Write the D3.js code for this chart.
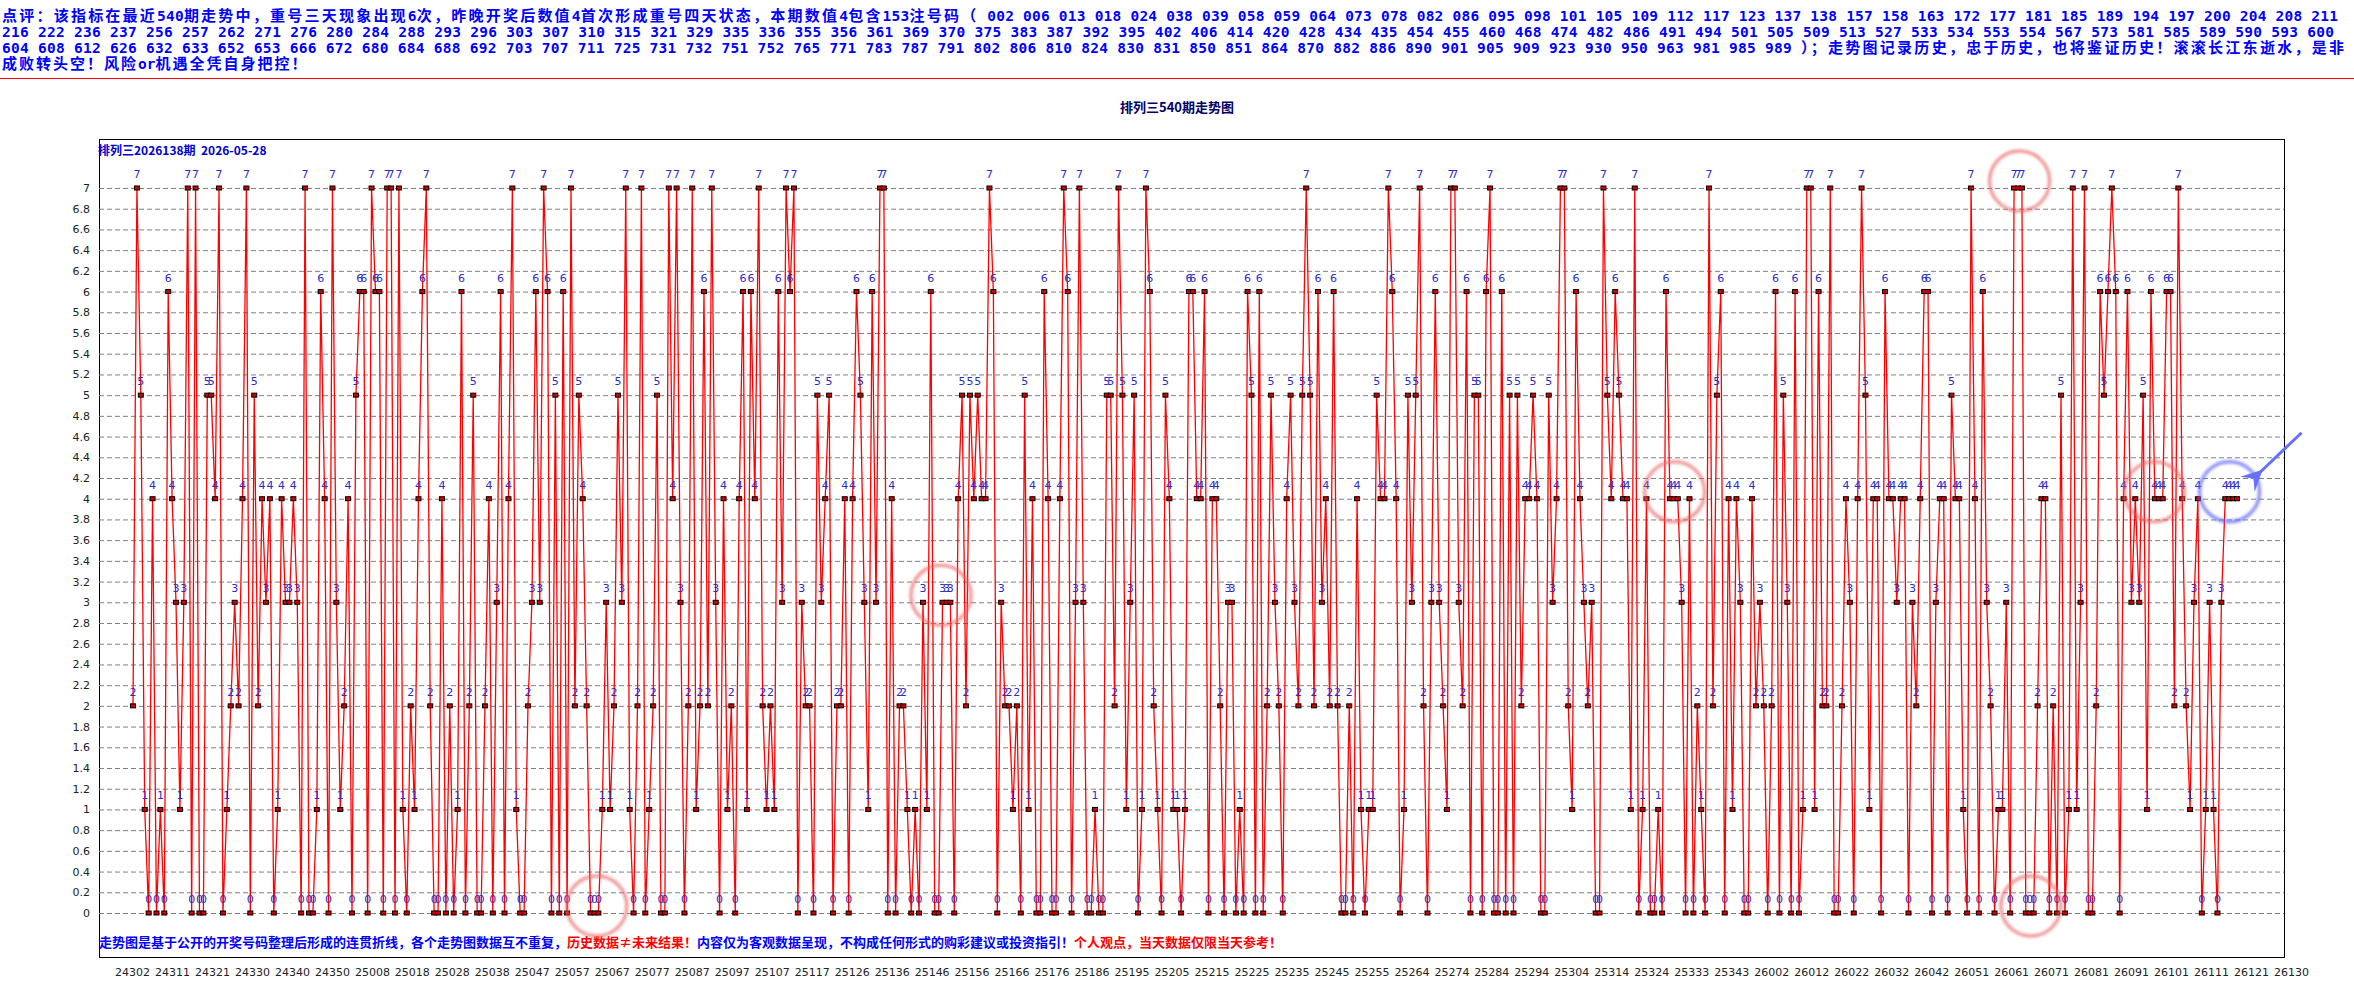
<!DOCTYPE html>
<html lang="zh">
<head>
<meta charset="UTF-8">
<title>排列三540期走势图</title>
<script src="https://cdn.jsdelivr.net/npm/d3@7"></script>
<style>
    body { margin: 0; background: #fff; }
    svg { display: block; }
    text { white-space: pre; }
</style>
</head>
<body>
<svg id="chart" width="2354" height="1004"></svg>
<script>

    // ---- data ----
    var chartTitle = '排列三540期走势图';
    var subTitle = '排列三2026138期  2026-05-28';

    var values = [
        2,7,5,1,0,4,0,1,0,6, 4,3,1,3,7,0,7,0,0,5, 5,4,7,0,1,2,3,2,4,7, 0,5,2,4,3,4,0,1,4,3,
        3,4,3,0,7,0,0,1,6,4, 0,7,3,1,2,4,0,5,6,6, 0,7,6,6,0,7,7,0,7,1, 0,2,1,4,6,7,2,0,0,4,
        0,2,0,1,6,0,2,5,0,0, 2,4,0,3,6,0,4,7,1,0, 0,2,3,6,3,7,6,0,5,0, 6,0,7,2,5,4,2,0,0,0,
        1,3,1,2,5,3,7,1,0,2, 7,0,1,2,5,0,0,7,4,7, 3,0,2,7,1,2,6,2,7,3, 0,4,1,2,0,4,6,1,6,4,
        7,2,1,2,1,6,3,7,6,7, 0,3,2,2,0,5,3,4,5,0, 2,2,4,0,4,6,5,3,1,6, 3,7,7,0,4,0,2,2,1,0,
        1,0,3,1,6,0,0,3,3,3, 0,4,5,2,5,4,5,4,4,7, 6,0,3,2,2,1,2,0,5,1, 4,0,0,6,4,0,0,4,7,6,
        0,3,7,3,0,0,1,0,0,5, 5,2,7,5,1,3,5,0,1,7, 6,2,1,0,5,4,1,1,0,1, 6,6,4,4,6,0,4,4,2,0,
        3,3,0,1,0,6,5,0,6,0, 2,5,3,2,0,4,5,3,2,5, 7,5,2,6,3,4,2,6,2,0, 0,2,0,4,1,0,1,1,5,4,
        4,7,6,4,0,1,5,3,5,7, 2,0,3,6,3,2,1,7,7,3, 2,6,0,5,5,0,6,7,0,0, 6,0,5,0,5,2,4,4,5,4,
        0,0,5,3,4,7,7,2,1,6, 4,3,2,3,0,0,7,5,4,6, 5,4,4,1,7,0,1,4,0,0, 1,0,6,4,4,4,3,0,4,0,
        2,1,0,7,2,5,6,0,4,1, 4,3,0,0,4,2,3,2,0,2, 6,0,5,3,0,6,0,1,7,7, 1,6,2,2,7,0,0,2,4,3,
        0,4,7,5,1,4,4,0,6,4, 4,3,4,4,0,3,2,4,6,6, 0,3,4,4,0,5,4,4,1,0, 7,4,0,6,3,2,0,1,1,3,
        0,7,7,7,0,0,0,2,4,4, 0,2,0,5,0,1,7,1,3,7, 0,0,2,6,5,6,7,6,0,4, 6,3,4,3,5,1,6,4,4,4,
        6,6,2,7,4,2,1,3,4,0, 1,3,1,0,3,4,4,4,4
    ];

    var xTickLabels = [
        '24302','24311','24321','24330','24340','24350',
        '25008','25018','25028','25038','25047','25057','25067','25077','25087','25097',
        '25107','25117','25126','25136','25146','25156','25166','25176','25186','25195',
        '25205','25215','25225','25235','25245','25255','25264','25274','25284','25294',
        '25304','25314','25324','25333','25343',
        '26002','26012','26022','26032','26042','26051','26061','26071','26081','26091',
        '26101','26111','26121','26130'
    ];

    var yTickValues = d3.range(0, 36).map(function (k) { return k / 5; });

    var headerLines = [
        '点评：该指标在最近540期走势中，重号三天现象出现6次，昨晚开奖后数值4首次形成重号四天状态，本期数值4包含153注号码（ 002 006 013 018 024 038 039 058 059 064 073 078 082 086 095 098 101 105 109 112 117 123 137 138 157 158 163 172 177 181 185 189 194 197 200 204 208 211',
        '216 222 236 237 256 257 262 271 276 280 284 288 293 296 303 307 310 315 321 329 335 336 355 356 361 369 370 375 383 387 392 395 402 406 414 420 428 434 435 454 455 460 468 474 482 486 491 494 501 505 509 513 527 533 534 553 554 567 573 581 585 589 590 593 600',
        '604 608 612 626 632 633 652 653 666 672 680 684 688 692 703 707 711 725 731 732 751 752 765 771 783 787 791 802 806 810 824 830 831 850 851 864 870 882 886 890 901 905 909 923 930 950 963 981 985 989 ）；走势图记录历史，忠于历史，也将鉴证历史！滚滚长江东逝水，是非',
        '成败转头空！风险or机遇全凭自身把控！'
    ];
    var headerWidths = [2336, 2332, 2344, null];

    var footNote = [
        { text: '走势图是基于公开的开奖号码整理后形成的连贯折线，各个走势图数据互不重复，', color: '#0000ff' },
        { text: '历史数据≠未来结果！', color: '#ff0000' },
        { text: '内容仅为客观数据呈现，不构成任何形式的购彩建议或投资指引！', color: '#0000ff' },
        { text: '个人观点，当天数据仅限当天参考！', color: '#ff0000' }
    ];

    // circled runs (index of centre, value) and the blue one on the latest draws
    var rings = [
        { i: 118.6, v: 0, color: 'red' },
        { i: 206.6, v: 3, color: 'red' },
        { i: 394.2, v: 4, color: 'red' },
        { i: 482.4, v: 7, color: 'red' },
        { i: 485.3, v: 0, color: 'red' },
        { i: 516.9, v: 4, color: 'red' },
        { i: 536.1, v: 4, color: 'blue' }
    ];

    // ---- layout ----
    var box = { left: 99, top: 139, right: 2284, bottom: 957 };

    var svg = d3.select('#chart');

    var defs = svg.append('defs');
    defs.append('filter').attr('id', 'glow')
        .attr('x', '-30%').attr('y', '-30%').attr('width', '160%').attr('height', '160%')
        .append('feGaussianBlur').attr('stdDeviation', 1.4);
    defs.append('marker').attr('id', 'arrowHead')
        .attr('viewBox', '0 0 10 10').attr('refX', 2).attr('refY', 5)
        .attr('markerWidth', 7).attr('markerHeight', 7).attr('orient', 'auto-start-reverse')
        .append('path').attr('d', 'M10,0 L0,5 L10,10 L6,5 Z').attr('fill', '#6670ff');

    var x = d3.scaleLinear().domain([0, values.length - 1]).range([133, 2237]);
    var y = d3.scaleLinear().domain([0, 7]).range([913, 188]);
    var xLab = d3.scalePoint().domain(xTickLabels).range([132, 2291]);

    // header text, CJK and ascii runs in their own fonts
    function addRuns(sel, str) {
        str.split(/([\x00-\x7f]+)/).forEach(function (part) {
            if (!part) return;
            var ascii = /^[\x00-\x7f]+$/.test(part);
            sel.append('tspan')
                .attr('font-family', ascii ? '"DejaVu Sans Mono", monospace' : '"Noto Sans CJK SC", sans-serif')
                .attr('font-size', ascii ? 14.5 : 15)
                .attr('letter-spacing', ascii ? 0 : 2)
                .text(part);
        });
    }

    headerLines.forEach(function (line, k) {
        var t = svg.append('text')
            .attr('x', 2)
            .attr('y', 21 + k * 16)
            .attr('fill', '#0000ff')
            .attr('font-weight', 'bold');
        if (headerWidths[k]) {
            t.attr('textLength', headerWidths[k]).attr('lengthAdjust', 'spacing');
        }
        addRuns(t, line);
    });

    svg.append('line')
        .attr('x1', 0).attr('x2', 2354).attr('y1', 78.5).attr('y2', 78.5)
        .attr('stroke', '#ff0000').attr('stroke-width', 1);

    svg.append('text')
        .attr('x', 1177).attr('y', 112)
        .attr('text-anchor', 'middle')
        .attr('font-family', '"Noto Sans CJK SC", sans-serif')
        .attr('font-size', 13).attr('font-weight', 'bold')
        .attr('fill', '#000066')
        .text(chartTitle);

    // plot frame
    svg.append('rect')
        .attr('x', box.left + 0.5).attr('y', box.top + 0.5)
        .attr('width', box.right - box.left).attr('height', box.bottom - box.top)
        .attr('fill', '#fff').attr('stroke', '#000').attr('stroke-width', 1);

    // dashed grid
    svg.append('g')
        .attr('transform', 'translate(' + box.left + ',0)')
        .call(d3.axisLeft(y).tickValues(yTickValues).tickSize(-(box.right - box.left)).tickFormat(''))
        .call(function (g) {
            g.select('.domain').remove();
            g.selectAll('line').attr('stroke', '#808080').attr('stroke-dasharray', '5,3');
        });

    // y labels
    svg.append('g')
        .attr('transform', 'translate(' + (box.left - 6) + ',0)')
        .call(d3.axisLeft(y).tickValues(yTickValues).tickSize(0).tickFormat(d3.format('~g')))
        .call(function (g) {
            g.select('.domain').remove();
            g.selectAll('text')
                .attr('font-family', '"DejaVu Sans", sans-serif')
                .attr('font-size', 11).attr('fill', '#222');
        });

    // x labels
    svg.append('g')
        .attr('transform', 'translate(0,' + (box.bottom + 8) + ')')
        .call(d3.axisBottom(xLab).tickSize(0))
        .call(function (g) {
            g.select('.domain').remove();
            g.selectAll('text')
                .attr('font-family', '"DejaVu Sans", sans-serif')
                .attr('font-size', 11).attr('fill', '#222');
        });

    svg.append('text')
        .attr('x', box.left - 1).attr('y', 155)
        .attr('font-family', '"Noto Sans CJK SC", sans-serif')
        .attr('font-size', 12).attr('font-weight', 'bold')
        .attr('fill', '#0000cc')
        .text(subTitle);

    // the trend line
    var line = d3.line()
        .x(function (d, i) { return x(i); })
        .y(function (d) { return y(d); });

    svg.append('path')
        .datum(values)
        .attr('d', line)
        .attr('fill', 'none')
        .attr('stroke', '#ff0000')
        .attr('stroke-width', 1.3);

    svg.append('g').selectAll('rect')
        .data(values)
        .enter().append('rect')
        .attr('x', function (d, i) { return x(i) - 2.5; })
        .attr('y', function (d) { return y(d) - 2; })
        .attr('width', 5).attr('height', 4)
        .attr('fill', '#d00000')
        .attr('stroke', '#000').attr('stroke-width', 1);

    svg.append('g').selectAll('text')
        .data(values)
        .enter().append('text')
        .attr('x', function (d, i) { return x(i); })
        .attr('y', function (d) { return y(d) - 10; })
        .attr('text-anchor', 'middle')
        .attr('font-family', '"DejaVu Sans", sans-serif')
        .attr('font-size', 11)
        .attr('fill', '#2c2cc4')
        .text(function (d) { return d; });

    // foot note inside the frame
    var fn = svg.append('text')
        .attr('x', box.left).attr('y', 947)
        .attr('font-family', '"Noto Sans CJK SC", sans-serif')
        .attr('font-size', 13).attr('font-weight', 'bold');
    footNote.forEach(function (s) {
        fn.append('tspan').attr('fill', s.color).text(s.text);
    });

    // annotation rings
    svg.append('g').selectAll('circle')
        .data(rings)
        .enter().append('circle')
        .attr('cx', function (d) { return x(d.i); })
        .attr('cy', function (d) { return y(d.v) - 7; })
        .attr('r', 30)
        .attr('fill', 'none')
        .attr('stroke', function (d) { return d.color === 'blue' ? 'rgba(95,105,245,0.85)' : 'rgba(235,95,95,0.75)'; })
        .attr('stroke-width', 3)
        .attr('filter', 'url(#glow)');

    var last = rings[rings.length - 1];
    svg.append('line')
        .attr('x1', x(last.i) + 72).attr('y1', y(last.v) - 66)
        .attr('x2', x(last.i) + 30).attr('y2', y(last.v) - 26)
        .attr('stroke', '#6670ff').attr('stroke-width', 3)
        .attr('marker-end', 'url(#arrowHead)');

</script>
</body>
</html>
